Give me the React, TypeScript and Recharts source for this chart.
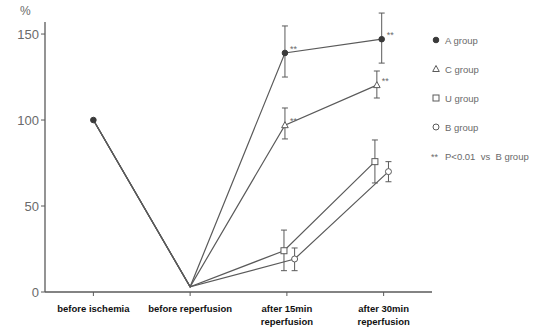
import { ErrorBar, Line, LineChart, XAxis, YAxis } from 'recharts'

const categories = ['before ischemia', 'before reperfusion', 'after 15min reperfusion', 'after 30min reperfusion']
const yTicks = [0, 50, 100, 150]

// x positions are slightly dodged in the original figure
const groups = ['A group', 'C group', 'U group', 'B group']
const xA = [0, 1, 1.98, 2.98]
const xC = [0, 1, 1.98, 2.93]
const xU = [0, 1, 1.97, 2.91]
const xB = [0, 1, 2.08, 3.05]

const meanA = [100, 3, 139, 147]
const meanC = [100, 3, 97, 120.3]
const meanU = [100, 3, 24, 75.8]
const meanB = [100, 3, 19.2, 70]

const upperA = [null, null, 154.7, 162.2]
const lowerA = [null, null, 125, 133.1]
const upperC = [null, null, 107, 128.5]
const lowerC = [null, null, 89, 112.8]
const upperU = [null, null, 36, 88.4]
const lowerU = [null, null, 12.4, 63.4]
const upperB = [null, null, 25.6, 75.8]
const lowerB = [null, null, 12.4, 64.1]

const sigA = [false, false, true, true]
const sigC = [false, false, true, true]

const sigLabel = '**'
const sigLegend = 'P<0.01  vs  B group'

type Pt = { x: number; y: number; err: [number, number] | null; sig: boolean }

function build(xs: number[], ys: number[], up: (number | null)[], lo: (number | null)[], sig?: boolean[]): Pt[] {
  return xs.map((x, i) => ({
    x,
    y: ys[i],
    err: up[i] == null || lo[i] == null ? null : [ys[i] - (lo[i] as number), (up[i] as number) - ys[i]],
    sig: sig ? sig[i] : false,
  }))
}

const dataA = build(xA, meanA, upperA, lowerA, sigA)
const dataC = build(xC, meanC, upperC, lowerC, sigC)
const dataU = build(xU, meanU, upperU, lowerU)
const dataB = build(xB, meanB, upperB, lowerB)

const ink = '#5a5a5a'
const textGray = '#6a6a6a'
const font = 'Arial, Liberation Sans, sans-serif'

function Marker({ kind, cx, cy }: { kind: string; cx: number; cy: number }) {
  if (kind === 'A group') return <circle cx={cx} cy={cy} r={2.8} fill="#3a3a3a" stroke="#3a3a3a" />
  if (kind === 'C group')
    return (
      <path
        d={`M${cx},${cy - 3.5} L${cx + 3.3},${cy + 2.5} L${cx - 3.3},${cy + 2.5} Z`}
        fill="#fff"
        stroke={ink}
        strokeWidth={1}
      />
    )
  if (kind === 'U group') return <rect x={cx - 3} y={cy - 3} width={6} height={6} fill="#fff" stroke={ink} strokeWidth={1} />
  return <circle cx={cx} cy={cy} r={3} fill="#fff" stroke={ink} strokeWidth={1} />
}

function makeDot(kind: string) {
  return (props: any) => {
    const { cx, cy, index, payload } = props
    const show = index >= 2 || (kind === 'A group' && index === 0)
    if (!show) return <g key={`${kind}-${index}`} />
    return (
      <g key={`${kind}-${index}`}>
        <Marker kind={kind} cx={cx} cy={cy} />
        {payload.sig ? (
          <text x={cx + 5} y={cy - 1} fontSize={9} fill={textGray} fontFamily={font}>
            {sigLabel}
          </text>
        ) : null}
      </g>
    )
  }
}

function CategoryTick(props: any) {
  const { x, y, payload } = props
  const label = categories[payload.value] ?? ''
  const parts = label.startsWith('after') ? [label.replace(' reperfusion', ''), 'reperfusion'] : [label]
  return (
    <g transform={`translate(${x},${y})`}>
      {parts.map((p, i) => (
        <text key={i} x={0} y={14 + i * 13} textAnchor="middle" fontSize={9.5} fontWeight="bold" fill="#111" fontFamily={font}>
          {p}
        </text>
      ))}
    </g>
  )
}

function LegendBox() {
  return (
    <svg width={125} height={140} style={{ display: 'block' }}>
      {groups.map((g, i) => (
        <g key={g} transform={`translate(6,${i * 29 + 6})`}>
          <Marker kind={g} cx={0} cy={0} />
          <text x={9} y={3.5} fontSize={9.5} fill={textGray} fontFamily={font}>
            {g}
          </text>
        </g>
      ))}
      <g transform={`translate(6,${4 * 29 + 6})`}>
        <text x={-5} y={3.5} fontSize={9} fill={textGray} fontFamily={font}>
          {sigLabel}
        </text>
        <text x={9} y={3.5} fontSize={9.5} fill={textGray} fontFamily={font} xmlSpace="preserve">
          {sigLegend}
        </text>
      </g>
    </svg>
  )
}

const series = [
  { name: 'A group', data: dataA },
  { name: 'C group', data: dataC },
  { name: 'U group', data: dataU },
  { name: 'B group', data: dataB },
]

export default function App() {
  return (
    <div style={{ position: 'absolute', left: 0, top: 0, width: 555, height: 329, background: '#fff' }}>
      <div style={{ position: 'absolute', left: 20, top: 4, fontSize: 12, color: textGray, fontFamily: font }}>%</div>
      <div style={{ position: 'absolute', left: 430, top: 34 }}>
        <LegendBox />
      </div>
      <LineChart width={555} height={329} margin={{ top: 22, right: 123, bottom: 7, left: 0 }}>
        <XAxis
          type="number"
          dataKey="x"
          domain={[-0.5, 3.5]}
          ticks={[0, 1, 2, 3]}
          allowDataOverflow
          height={30}
          tick={<CategoryTick />}
          tickSize={4}
          axisLine={{ stroke: ink, strokeWidth: 1.3 }}
          tickLine={{ stroke: ink }}
        />
        <YAxis
          type="number"
          domain={[0, 157]}
          ticks={yTicks}
          allowDataOverflow
          width={45}
          tickSize={4}
          axisLine={{ stroke: ink, strokeWidth: 1.3 }}
          tickLine={{ stroke: ink }}
          tick={{ fill: textGray, fontSize: 13, fontFamily: font }}
        />
        {series.map((s) => (
          <Line
            key={s.name}
            name={s.name}
            data={s.data}
            dataKey="y"
            type="linear"
            stroke={ink}
            strokeWidth={1.2}
            dot={makeDot(s.name)}
            activeDot={false}
            isAnimationActive={false}
          >
            <ErrorBar dataKey="err" direction="y" width={3} stroke={ink} strokeWidth={1} />
          </Line>
        ))}
      </LineChart>
    </div>
  )
}
